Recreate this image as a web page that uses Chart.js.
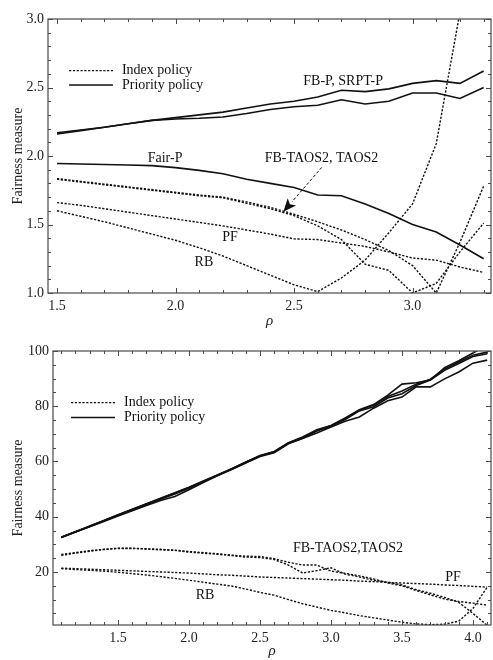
<!DOCTYPE html>
<html>
<head>
<meta charset="utf-8">
<script src="https://cdn.jsdelivr.net/npm/chart.js@4.4.1/dist/chart.umd.min.js"></script>
<style>
  html, body { margin: 0; padding: 0; background: #fff; }
  #wrap { position: relative; width: 493px; height: 660px; }
  canvas { position: absolute; left: 0; }
  #chart-top { top: 0; }
  #chart-bottom { top: 330px; }
</style>
</head>
<body>
<div id="wrap">
  <canvas id="chart-top" width="493" height="330"></canvas>
  <canvas id="chart-bottom" width="493" height="330"></canvas>
</div>
<script>
/* ===== fairness measure vs rho, two panels ===== */

/* ---------- top panel data ---------- */
const rhoTop = [1.5, 1.6, 1.7, 1.8, 1.9, 2.0, 2.1, 2.2, 2.3, 2.4, 2.5, 2.6, 2.7, 2.8, 2.9, 3.0, 3.1, 3.2, 3.3];

// priority policy (solid)
const fbPTop    = [2.17, 2.19, 2.21, 2.235, 2.26, 2.28, 2.30, 2.32, 2.35, 2.38, 2.40, 2.43, 2.48, 2.47, 2.49, 2.53, 2.55, 2.53, 2.62];
const srptPTop  = [2.16, 2.185, 2.21, 2.235, 2.26, 2.27, 2.275, 2.285, 2.31, 2.34, 2.36, 2.37, 2.41, 2.38, 2.40, 2.46, 2.46, 2.42, 2.50];
const fairPTop  = [1.945, 1.942, 1.938, 1.934, 1.93, 1.915, 1.895, 1.87, 1.83, 1.80, 1.77, 1.715, 1.71, 1.65, 1.58, 1.50, 1.445, 1.35, 1.25];

// index policy (dotted)
const fbTaosTop = [1.835, 1.815, 1.795, 1.775, 1.755, 1.735, 1.715, 1.70, 1.665, 1.625, 1.575, 1.52, 1.46, 1.39, 1.31, 1.20, 1.0, 1.37, 1.78];
const taosTop   = [1.83, 1.81, 1.79, 1.77, 1.75, 1.73, 1.71, 1.695, 1.655, 1.615, 1.565, 1.49, 1.39, 1.21, 1.165, 1.0, 1.07, 1.30, 1.51];
const pfTop     = [1.66, 1.64, 1.615, 1.59, 1.565, 1.54, 1.515, 1.49, 1.46, 1.43, 1.395, 1.39, 1.365, 1.34, 1.30, 1.255, 1.24, 1.19, 1.15];
const rbTop     = [1.60, 1.56, 1.52, 1.475, 1.43, 1.385, 1.33, 1.27, 1.20, 1.13, 1.06, 1.01, 1.11, 1.24, 1.44, 1.65, 2.09, 3.05, 4.0];

/* ---------- bottom panel data ---------- */
const rhoBottom = [1.1, 1.2, 1.3, 1.4, 1.5, 1.6, 1.7, 1.8, 1.9, 2.0, 2.1, 2.2, 2.3, 2.4, 2.5, 2.6,
                   2.7, 2.8, 2.9, 3.0, 3.1, 3.2, 3.3, 3.4, 3.5, 3.6, 3.7, 3.8, 3.9, 4.0, 4.1];

// priority policy (solid)
const prio1Bottom = [32.6, 34.6, 36.6, 38.6, 40.7, 42.7, 44.7, 46.7, 48.7, 50.7, 52.9, 55.1, 57.4, 59.8, 62.2, 63.6,
                     66.8, 68.9, 71.5, 73.0, 75.8, 78.7, 80.6, 84.0, 88.0, 88.5, 89.5, 94.0, 96.5, 99.3, 102.0];
const prio2Bottom = [32.5, 34.5, 36.5, 38.5, 40.6, 42.6, 44.6, 46.6, 48.6, 50.6, 52.8, 55.0, 57.2, 59.6, 62.0, 63.4,
                     66.6, 68.6, 71.2, 72.9, 75.5, 78.6, 80.4, 83.5, 85.5, 88.0, 89.8, 93.5, 96.0, 98.5, 99.6];
const prio3Bottom = [32.6, 34.6, 36.5, 38.5, 40.5, 42.5, 44.4, 46.3, 48.2, 50.3, 52.6, 55.0, 57.3, 59.7, 62.0, 63.5,
                     66.6, 68.5, 71.0, 72.8, 75.2, 78.3, 79.8, 83.0, 84.5, 87.5, 89.5, 93.0, 95.5, 98.0, 99.0];
const prio4Bottom = [32.5, 34.5, 36.4, 38.3, 40.3, 42.2, 44.1, 45.9, 47.3, 49.8, 52.4, 54.8, 57.1, 59.4, 61.8, 63.2,
                     66.4, 68.3, 70.3, 72.5, 74.6, 76.1, 79.3, 82.0, 83.3, 87.0, 87.0, 89.9, 92.4, 95.6, 96.7];

// index policy (dotted)
const fbTaosBottom = [26.0, 26.8, 27.5, 28.1, 28.5, 28.5, 28.3, 28.0, 27.8, 27.2, 26.8, 26.4, 25.9, 25.4, 25.2, 24.5,
                      22.5, 19.6, 20.5, 21.5, 19.2, 18.2, 17.0, 16.3, 15.3, 13.6, 12.3, 10.8, 9.0, 5.0, 0.7];
const taosBottom   = [26.3, 27.0, 27.7, 28.2, 28.6, 28.6, 28.4, 28.2, 27.9, 27.4, 27.0, 26.6, 26.1, 25.7, 25.6, 24.8,
                      23.5, 22.5, 22.5, 20.3, 19.5, 18.6, 17.5, 16.0, 15.0, 13.3, 11.7, 10.2, 9.3, 8.7, 8.0];
const pfBottom     = [21.4, 21.2, 21.0, 20.8, 20.6, 20.4, 20.2, 20.0, 19.8, 19.6, 19.3, 19.0, 18.8, 18.5, 18.2, 18.0,
                      17.8, 17.6, 17.4, 17.2, 17.0, 16.7, 16.5, 16.2, 16.0, 15.8, 15.6, 15.3, 15.1, 14.8, 14.5];
const rbBottom     = [21.2, 20.9, 20.6, 20.3, 19.9, 19.4, 18.9, 18.3, 17.7, 17.0, 16.3, 15.6, 14.9, 13.8, 12.6, 11.6,
                      10.0, 8.5, 7.3, 6.1, 5.2, 4.2, 3.4, 2.6, 1.8, 1.2, 0.9, 1.1, 2.2, 6.8, 14.5];

/* ---------- shared styles ---------- */
const serif = "'Liberation Serif', 'Times New Roman', serif";
const ink = "#111";
const axisInk = "#4a4a4a";
const dotDash = [2.2, 1.6];

Chart.defaults.font.family = serif;
Chart.defaults.font.size = 14;
Chart.defaults.color = "#222";

function series(label, xs, ys, dotted) {
  return {
    label,
    data: xs.map((x, i) => ({ x, y: ys[i] })),
    borderColor: ink,
    borderWidth: dotted ? 1.4 : 1.6,
    borderDash: dotted ? dotDash : [],
    pointRadius: 0,
    tension: 0,
    fill: false,
  };
}

/* frame box with inward ticks on all four sides */
const frameTicks = {
  id: "frameTicks",
  afterDraw(chart, args, opts) {
    const { ctx, chartArea: a, scales: { x, y } } = chart;
    ctx.save();
    ctx.strokeStyle = axisInk;
    ctx.lineWidth = 1.2;
    ctx.strokeRect(a.left, a.top, a.right - a.left, a.bottom - a.top);
    ctx.lineWidth = 1;
    const isMajor = (k, every) => k % every === 0;

    for (let k = Math.ceil(x.min / opts.xStep - 1e-9); k * opts.xStep <= x.max + 1e-9; k++) {
      const px = Math.round(x.getPixelForValue(k * opts.xStep)) + 0.5;
      const len = isMajor(k, opts.xMajorEvery) ? 5 : 3;
      ctx.beginPath();
      ctx.moveTo(px, a.bottom); ctx.lineTo(px, a.bottom - len);
      ctx.moveTo(px, a.top); ctx.lineTo(px, a.top + len);
      ctx.stroke();
    }
    for (let k = Math.ceil(y.min / opts.yStep - 1e-9); k * opts.yStep <= y.max + 1e-9; k++) {
      const py = Math.round(y.getPixelForValue(k * opts.yStep)) + 0.5;
      const len = isMajor(k, opts.yMajorEvery) ? 5 : 3;
      ctx.beginPath();
      ctx.moveTo(a.left, py); ctx.lineTo(a.left + len, py);
      ctx.moveTo(a.right, py); ctx.lineTo(a.right - len, py);
      ctx.stroke();
    }
    ctx.restore();
  },
};

/* in-plot labels, legend and arrow, placed in data coordinates */
const notes = {
  id: "notes",
  afterDatasetsDraw(chart, args, opts) {
    const { ctx, scales: { x, y } } = chart;
    ctx.save();
    ctx.font = `14px ${serif}`;
    ctx.fillStyle = ink;
    ctx.textBaseline = "middle";

    ctx.textAlign = "center";
    (opts.labels || []).forEach(n => {
      ctx.fillText(n.text, x.getPixelForValue(n.x), y.getPixelForValue(n.y));
    });

    // legend
    const lg = opts.legend;
    if (lg) {
      ctx.textAlign = "left";
      lg.rows.forEach(r => {
        const py = y.getPixelForValue(r.y);
        ctx.beginPath();
        ctx.strokeStyle = ink;
        ctx.lineWidth = r.dotted ? 1.4 : 1.6;
        ctx.setLineDash(r.dotted ? dotDash : []);
        ctx.moveTo(x.getPixelForValue(lg.x0), py);
        ctx.lineTo(x.getPixelForValue(lg.x1), py);
        ctx.stroke();
        ctx.fillText(r.text, x.getPixelForValue(lg.xText), py);
      });
      ctx.setLineDash([]);
    }

    // arrow
    const ar = opts.arrow;
    if (ar) {
      const x0 = x.getPixelForValue(ar.from[0]), y0 = y.getPixelForValue(ar.from[1]);
      const x1 = x.getPixelForValue(ar.to[0]), y1 = y.getPixelForValue(ar.to[1]);
      const ang = Math.atan2(y1 - y0, x1 - x0);
      const head = 13, half = 5.5;
      const bx = x1 - head * Math.cos(ang), by = y1 - head * Math.sin(ang);
      ctx.strokeStyle = ink;
      ctx.lineWidth = 1;
      ctx.setLineDash([3, 2]);
      ctx.beginPath();
      ctx.moveTo(x0, y0);
      ctx.lineTo(bx, by);
      ctx.stroke();
      ctx.setLineDash([]);
      ctx.beginPath();
      ctx.moveTo(x1, y1);
      ctx.lineTo(bx + half * Math.sin(ang), by - half * Math.cos(ang));
      ctx.lineTo(bx + 3 * Math.cos(ang), by + 3 * Math.sin(ang));
      ctx.lineTo(bx - half * Math.sin(ang), by + half * Math.cos(ang));
      ctx.closePath();
      ctx.fill();
    }
    ctx.restore();
  },
};

function axisX(min, max, height) {
  return {
    type: "linear",
    min, max,
    grid: { display: false, drawTicks: false },
    border: { display: false },
    ticks: { stepSize: 0.5, includeBounds: false, padding: 5, maxRotation: 0, callback: v => v.toFixed(1) },
    title: { display: true, text: "ρ", font: { style: "italic", size: 15 }, padding: { top: 0, bottom: 0 } },
    afterFit: s => { s.height = height; },
  };
}

function axisY(min, max, step, digits, width) {
  return {
    min, max,
    grid: { display: false, drawTicks: false },
    border: { display: false },
    ticks: { stepSize: step, includeBounds: false, padding: 4, callback: v => v.toFixed(digits) },
    title: { display: true, text: "Fairness measure", padding: { top: 10, bottom: 0 } },
    afterFit: s => { s.width = width; },
  };
}

/* ---------- top panel ---------- */
new Chart(document.getElementById("chart-top"), {
  type: "line",
  data: {
    datasets: [
      series("FB-P", rhoTop, fbPTop, false),
      series("SRPT-P", rhoTop, srptPTop, false),
      series("Fair-P", rhoTop, fairPTop, false),
      series("FB-TAOS2", rhoTop, fbTaosTop, true),
      series("TAOS2", rhoTop, taosTop, true),
      series("PF", rhoTop, pfTop, true),
      series("RB", rhoTop, rbTop, true),
    ],
  },
  options: {
    responsive: false,
    animation: false,
    layout: { padding: { top: 19, right: 2, left: 0, bottom: 0 } },
    plugins: {
      legend: { display: false },
      tooltip: { enabled: false },
      frameTicks: { xStep: 0.1, xMajorEvery: 5, yStep: 0.1, yMajorEvery: 5 },
      notes: {
        labels: [
          { text: "FB-P, SRPT-P", x: 2.707, y: 2.547 },
          { text: "Fair-P", x: 1.956, y: 1.982 },
          { text: "FB-TAOS2, TAOS2", x: 2.616, y: 1.982 },
          { text: "PF", x: 2.23, y: 1.409 },
          { text: "RB", x: 2.12, y: 1.226 },
        ],
        legend: {
          x0: 1.551, x1: 1.736, xText: 1.774,
          rows: [
            { text: "Index policy", y: 2.623, dotted: true },
            { text: "Priority policy", y: 2.518, dotted: false },
          ],
        },
        arrow: { from: [2.617, 1.917], to: [2.455, 1.593] },
      },
    },
    scales: {
      x: axisX(1.462, 3.331, 37),
      y: axisY(1, 3, 0.5, 1, 48),
    },
  },
  plugins: [frameTicks, notes],
});

/* ---------- bottom panel ---------- */
new Chart(document.getElementById("chart-bottom"), {
  type: "line",
  data: {
    datasets: [
      series("FB-P", rhoBottom, prio1Bottom, false),
      series("SRPT-P", rhoBottom, prio2Bottom, false),
      series("Fair-P", rhoBottom, prio3Bottom, false),
      series("P4", rhoBottom, prio4Bottom, false),
      series("FB-TAOS2", rhoBottom, fbTaosBottom, true),
      series("TAOS2", rhoBottom, taosBottom, true),
      series("PF", rhoBottom, pfBottom, true),
      series("RB", rhoBottom, rbBottom, true),
    ],
  },
  options: {
    responsive: false,
    animation: false,
    layout: { padding: { top: 21, right: 2, left: 0, bottom: 0 } },
    plugins: {
      legend: { display: false },
      tooltip: { enabled: false },
      frameTicks: { xStep: 0.1, xMajorEvery: 5, yStep: 5, yMajorEvery: 4 },
      notes: {
        labels: [
          { text: "FB-TAOS2,TAOS2", x: 3.12, y: 28.66 },
          { text: "PF", x: 3.859, y: 18.2 },
          { text: "RB", x: 2.113, y: 11.7 },
        ],
        legend: {
          x0: 1.169, x1: 1.479, xText: 1.542,
          rows: [
            { text: "Index policy", y: 81.3, dotted: true },
            { text: "Priority policy", y: 75.9, dotted: false },
          ],
        },
      },
    },
    scales: {
      x: axisX(1.042, 4.127, 35),
      y: axisY(0.8, 100, 20, 0, 53),
    },
  },
  plugins: [frameTicks, notes],
});
</script>
</body>
</html>
